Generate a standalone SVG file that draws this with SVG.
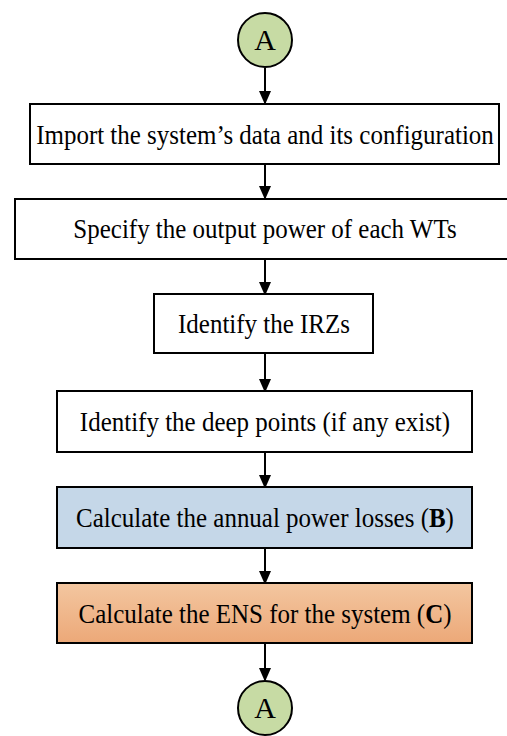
<svg xmlns="http://www.w3.org/2000/svg" width="507" height="736" viewBox="0 0 507 736">
<style>
.box{stroke:#000;stroke-width:2;fill:#fff}
.conn{fill:#C7DBA4;stroke:#000;stroke-width:2}
.t{font-family:"Liberation Serif","Times New Roman",serif;font-size:27px;fill:#000;text-anchor:middle}
.ta{font-family:"Liberation Serif","Times New Roman",serif;font-size:30px;fill:#000;text-anchor:middle}
.e{stroke:#000;stroke-width:2;fill:none}
</style>
<defs>
<marker id="ah" markerWidth="14" markerHeight="16" refX="14" refY="7" orient="auto" markerUnits="userSpaceOnUse" viewBox="0 0 16 14">
<path d="M0,0 L16,7 L0,14 Z" fill="#000"/>
</marker>
<linearGradient id="og" x1="0" y1="0" x2="0" y2="1">
<stop offset="0" stop-color="#F3C6A0"/>
<stop offset="1" stop-color="#ECA878"/>
</linearGradient>
</defs>
<g id="connectors">
<line class="e" x1="265" y1="68" x2="265" y2="103" marker-end="url(#ah)"/>
<line class="e" x1="265" y1="164" x2="265" y2="198" marker-end="url(#ah)"/>
<line class="e" x1="265" y1="259" x2="265" y2="294" marker-end="url(#ah)"/>
<line class="e" x1="265" y1="353" x2="265" y2="391" marker-end="url(#ah)"/>
<line class="e" x1="265" y1="452" x2="265" y2="487" marker-end="url(#ah)"/>
<line class="e" x1="265" y1="548" x2="265" y2="583" marker-end="url(#ah)"/>
<line class="e" x1="265" y1="643" x2="265" y2="680" marker-end="url(#ah)"/>
</g>
<g id="startA">
<circle class="conn" cx="265" cy="40" r="27"/>
<text class="ta" x="265" y="50">A</text>
</g>
<g id="n1">
<rect class="box" x="30" y="104" width="469" height="60"/>
<text class="t" transform="translate(265,144) scale(0.925,1)">Import the system’s data and its configuration</text>
</g>
<g id="n2">
<rect class="box" x="15" y="199" width="500" height="60"/>
<text class="t" transform="translate(265,238) scale(0.925,1)">Specify the output power of each WTs</text>
</g>
<g id="n3">
<rect class="box" x="154" y="294" width="219" height="59"/>
<text class="t" transform="translate(264,333) scale(0.925,1)">Identify the IRZs</text>
</g>
<g id="n4">
<rect class="box" x="57" y="391" width="415" height="61"/>
<text class="t" transform="translate(265,431) scale(0.925,1)">Identify the deep points (if any exist)</text>
</g>
<g id="n5">
<rect class="box" x="57" y="487" width="415" height="61" style="fill:#C5D7E8"/>
<text class="t" transform="translate(265,527) scale(0.925,1)">Calculate the annual power losses (<tspan font-weight="bold">B</tspan>)</text>
</g>
<g id="n6">
<rect class="box" x="57" y="583" width="415" height="60" style="fill:url(#og)"/>
<text class="t" transform="translate(265,623) scale(0.925,1)">Calculate the ENS for the system (<tspan font-weight="bold">C</tspan>)</text>
</g>
<g id="endA">
<circle class="conn" cx="265" cy="708" r="27"/>
<text class="ta" x="265" y="718">A</text>
</g>
</svg>
